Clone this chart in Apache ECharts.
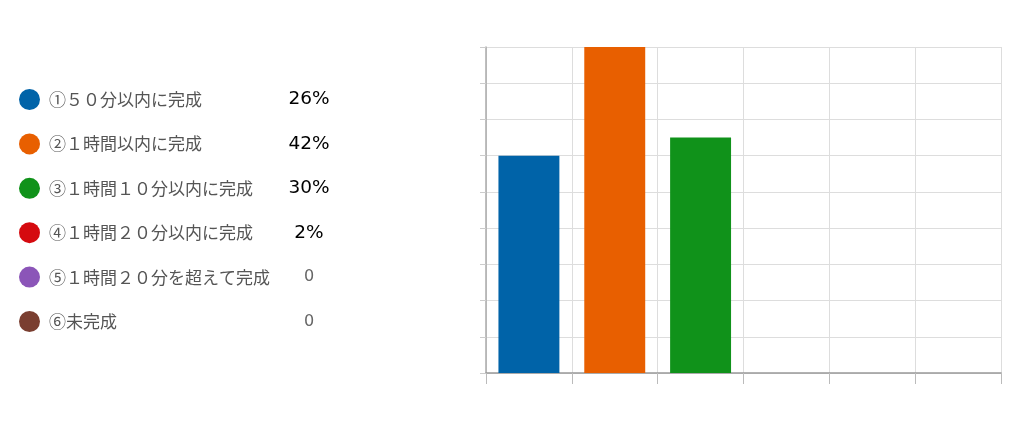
<!DOCTYPE html>
<html><head><meta charset="utf-8">
<script src="https://cdn.jsdelivr.net/npm/echarts@6/dist/echarts.min.js"></script>
<style>html,body{margin:0;padding:0;background:#fff}#c{width:1020px;height:426px}</style>
</head><body><div id="c"></div>
<script>
const categories = ['①５０分以内に完成','②１時間以内に完成','③１時間１０分以内に完成','④１時間２０分以内に完成','⑤１時間２０分を超えて完成','⑥未完成'];
const values = [6.0, 9.0, 6.5, 0, 0, 0];
const shareLabels = ['26%','42%','30%','2%','0','0'];
const colors = ['#0063A8','#E85F00','#10921A','#D50A0F','#8B55B8','#7A3E30'];

const series = categories.map((name, i) => ({
  name: name,
  type: 'bar',
  barGap: '-100%',
  barWidth: '71%',
  itemStyle: { color: colors[i] },
  data: values.map((v, j) => j === i ? v : '-'),
  animation: false
}));

const chart = echarts.init(document.getElementById('c'));
chart.setOption({
  animation: false,
  color: colors,
  grid: { left: 486, right: 19, top: 47, bottom: 53 },
  legend: {
    orient: 'vertical',
    left: 14, top: 84,
    icon: 'circle',
    itemWidth: 21, itemHeight: 21,
    itemGap: 23.4,
    selectedMode: false,
    data: categories,
    formatter: function (name) {
      const i = categories.indexOf(name);
      const s = shareLabels[i];
      return '{a|' + name + '}' + (s.indexOf('%') >= 0 ? '{p|' + s + '}' : '{z|' + s + '}');
    },
    textStyle: {
      rich: {
        a: { width: 230, fontSize: 17, color: '#555', fontFamily: 'Noto Sans CJK JP', lineHeight: 21, padding: [0,0,0,4] },
        p: { width: 60, align: 'center', fontSize: 18.5, color: '#000', fontFamily: 'DejaVu Sans', lineHeight: 21 },
        z: { width: 60, align: 'center', fontSize: 16, color: '#666', fontFamily: 'DejaVu Sans', lineHeight: 21 }
      }
    }
  },
  xAxis: {
    type: 'category',
    data: categories,
    axisLabel: { show: false },
    axisLine: { lineStyle: { color: '#999', width: 1.5 } },
    axisTick: { show: true, interval: 0, length: 11, lineStyle: { color: '#bbb' } },
    splitLine: { show: true, interval: 0, lineStyle: { color: '#dddddd' } }
  },
  yAxis: {
    type: 'value',
    min: 0, max: 9, interval: 1,
    axisLabel: { show: false },
    axisLine: { show: true, lineStyle: { color: '#aaa', width: 1.5 } },
    axisTick: { show: true, length: 6, lineStyle: { color: '#ccc' } },
    splitLine: { show: true, lineStyle: { color: '#dddddd' } }
  },
  series: series
});
</script>
</body></html>
